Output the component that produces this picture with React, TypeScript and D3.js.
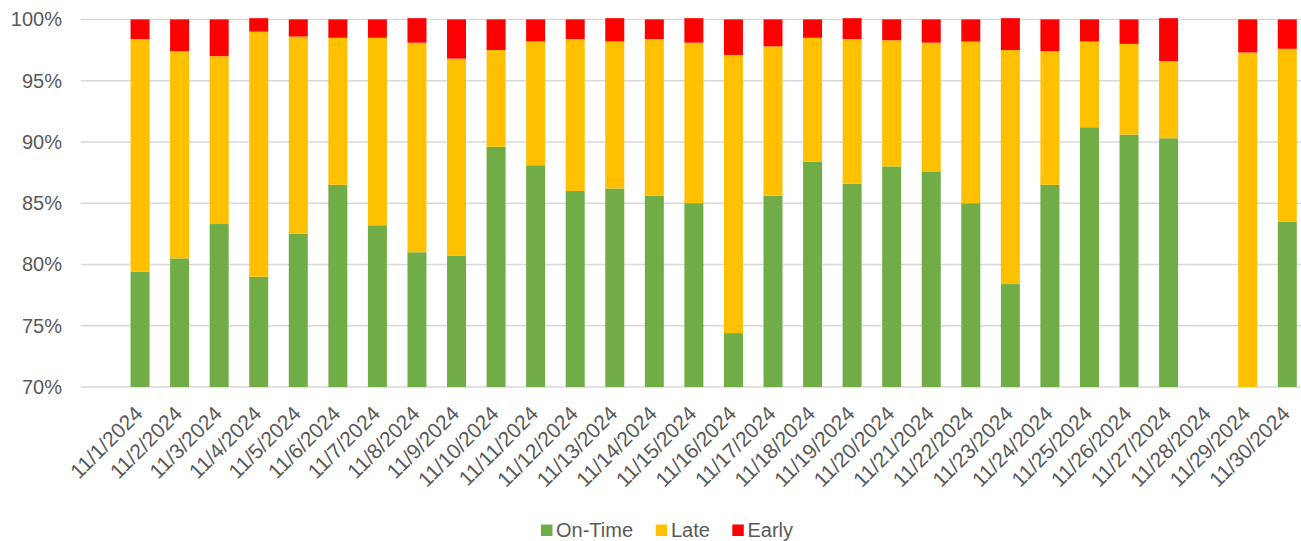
import React from "react";
import * as d3 from "d3";

// Daily delivery timing shares for November 2024 (percent of shipments)
const dates: string[] = [
  "11/1/2024", "11/2/2024", "11/3/2024", "11/4/2024", "11/5/2024", "11/6/2024",
  "11/7/2024", "11/8/2024", "11/9/2024", "11/10/2024", "11/11/2024", "11/12/2024",
  "11/13/2024", "11/14/2024", "11/15/2024", "11/16/2024", "11/17/2024", "11/18/2024",
  "11/19/2024", "11/20/2024", "11/21/2024", "11/22/2024", "11/23/2024", "11/24/2024",
  "11/25/2024", "11/26/2024", "11/27/2024", "11/28/2024", "11/29/2024", "11/30/2024",
];

const onTime: number[] = [
  79.4, 80.5, 83.3, 79.0, 82.5, 86.5, 83.2, 81.0, 80.7, 89.6,
  88.1, 86.0, 86.2, 85.6, 85.0, 74.4, 85.6, 88.4, 86.6, 88.0,
  87.6, 85.0, 78.4, 86.5, 91.2, 90.6, 90.3, 0, 0, 83.5,
];

const late: number[] = [
  19.0, 16.9, 13.7, 20.0, 16.1, 12.0, 15.3, 17.1, 16.1, 7.9,
  10.1, 12.4, 12.0, 12.8, 13.1, 22.7, 12.2, 10.1, 11.8, 10.3,
  10.5, 13.2, 19.1, 10.9, 7.0, 7.4, 6.3, 0, 97.3, 14.1,
];

const early: number[] = [
  1.6, 2.6, 3.0, 1.1, 1.4, 1.5, 1.5, 2.0, 3.2, 2.5,
  1.8, 1.6, 1.9, 1.6, 2.0, 2.9, 2.2, 1.5, 1.7, 1.7,
  1.9, 1.8, 2.6, 2.6, 1.8, 2.0, 3.5, 0, 2.7, 2.4,
];

const seriesNames: string[] = ["On-Time", "Late", "Early"];
const seriesColors: string[] = ["#70AD47", "#FFC000", "#FF0000"];
const yTicks: number[] = [70, 75, 80, 85, 90, 95, 100];

const W = 1301;
const H = 541;
const FONT = "'Liberation Sans', Arial, sans-serif";
const TEXT = "#595959";

export default function App() {
  const gridLeft = 80.7;
  const gridRight = W;
  const step = 39.56;
  const top = 19.4;
  const bottom = 387;

  const x = d3
    .scaleBand<string>()
    .domain(dates)
    .range([gridLeft + step, gridLeft + step * (dates.length + 1)])
    .paddingInner(0.52)
    .paddingOuter(0.26);

  const y = d3.scaleLinear().domain([70, 100]).range([bottom, top]);

  const rows = dates.map((d, i) => ({
    date: d,
    "On-Time": onTime[i],
    Late: late[i],
    Early: early[i],
  }));
  const stacked = d3.stack<any>().keys(seriesNames)(rows);

  const legendItems = [
    { name: "On-Time", sx: 541, tx: 556 },
    { name: "Late", sx: 655.7, tx: 671 },
    { name: "Early", sx: 732.3, tx: 747.5 },
  ];

  return (
    <svg
      width={W}
      height={H}
      style={{ position: "absolute", left: 0, top: 0, background: "#fff" }}
      fontFamily={FONT}
    >
      <defs>
        <clipPath id="plot-clip">
          <rect x={gridLeft} y={0} width={gridRight - gridLeft} height={bottom} />
        </clipPath>
      </defs>

      {/* horizontal gridlines */}
      {yTicks.map((t) => (
        <line
          key={`g${t}`}
          x1={gridLeft}
          x2={gridRight}
          y1={y(t)}
          y2={y(t)}
          stroke="#D9D9D9"
          strokeWidth={1.5}
        />
      ))}

      {/* y tick labels */}
      {yTicks.map((t) => (
        <text
          key={`t${t}`}
          x={62}
          y={y(t) + 7}
          textAnchor="end"
          fontSize={20}
          fill={TEXT}
        >
          {`${t}%`}
        </text>
      ))}

      {/* stacked bars */}
      <g clipPath="url(#plot-clip)">
        {stacked.map((layer, si) =>
          layer.map((seg, i) => {
            const v = seg[1] - seg[0];
            if (v <= 0) return null;
            const y0 = y(seg[0]);
            const y1 = y(seg[1]);
            return (
              <rect
                key={`${si}-${i}`}
                x={x(dates[i])}
                y={y1}
                width={x.bandwidth()}
                height={y0 - y1}
                fill={seriesColors[si]}
              />
            );
          })
        )}
      </g>

      {/* x category labels */}
      {dates.map((d) => {
        const cx = (x(d) as number) + x.bandwidth() / 2 + 4;
        const cy = bottom + 28;
        return (
          <text
            key={`x${d}`}
            transform={`translate(${cx},${cy}) rotate(-45)`}
            textAnchor="end"
            fontSize={21}
            fill={TEXT}
          >
            {d}
          </text>
        );
      })}

      {/* legend */}
      {legendItems.map((item, i) => (
        <g key={item.name}>
          <rect x={item.sx} y={524.5} width={11.5} height={11.5} fill={seriesColors[i]} />
          <text x={item.tx} y={537} fontSize={20} fill={TEXT}>
            {item.name}
          </text>
        </g>
      ))}
    </svg>
  );
}
